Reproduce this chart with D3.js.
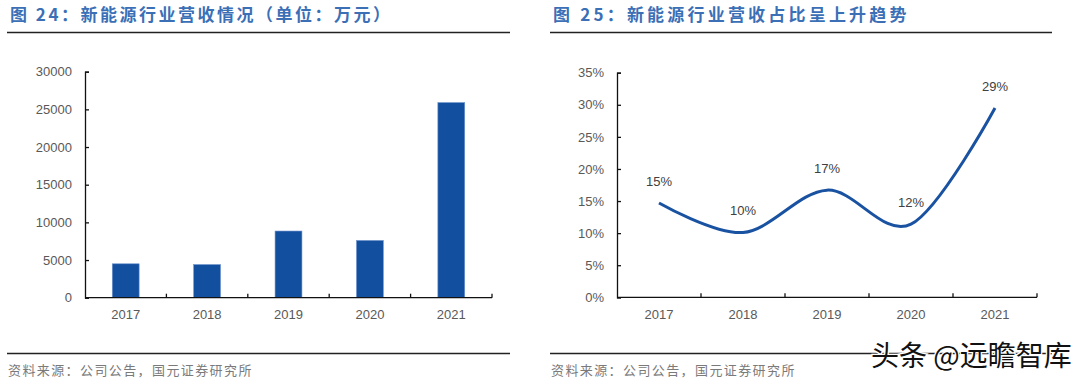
<!DOCTYPE html>
<html>
<head>
<meta charset="utf-8">
<script src="https://cdn.jsdelivr.net/npm/d3@7"></script>
<style>
  body { margin: 0; background: #fff; }
  svg { display: block; }
</style>
</head>
<body>
<script>
// data
const years = ['2017', '2018', '2019', '2020', '2021'];
const revenue = [4500, 4400, 8850, 7600, 25900];     // 万元
const share = [0.147, 0.101, 0.167, 0.114, 0.295];   // share of total revenue
const shareLabels = ['15%', '10%', '17%', '12%', '29%'];
const revTicks = [0, 5000, 10000, 15000, 20000, 25000, 30000];
const shareTicks = [0, 0.05, 0.10, 0.15, 0.20, 0.25, 0.30, 0.35];

const W = 1080, H = 384;
const blue = '#134f9f';
const cjk = '"Noto Sans CJK SC", "Noto Sans", sans-serif';
const latin = 'Arial, "Liberation Sans", sans-serif';

const svg = d3.select('body').append('svg')
    .attr('width', W)
    .attr('height', H);

// titles, rules, source lines for both panels
const panels = [
  {x0: 7, x1: 510, ls: 2.5, title: '图 24：新能源行业营收情况（单位：万元）'},
  {x0: 550, x1: 1052, ls: 3.2, title: '图 25：新能源行业营收占比呈上升趋势'}
];
panels.forEach(p => {
  svg.append('text')
      .attr('x', p.x0 + 3)
      .attr('y', 21)
      .attr('fill', '#3b6fb6')
      .attr('font-family', cjk)
      .attr('font-weight', 700)
      .attr('font-size', 17)
      .attr('letter-spacing', p.ls)
      .text(p.title);
  svg.append('line')
      .attr('x1', p.x0).attr('x2', p.x1)
      .attr('y1', 32.5).attr('y2', 32.5)
      .attr('stroke', '#222').attr('stroke-width', 1.6);
  svg.append('line')
      .attr('x1', p.x0).attr('x2', p.x1)
      .attr('y1', 353.5).attr('y2', 353.5)
      .attr('stroke', '#222').attr('stroke-width', 1.6);
  svg.append('text')
      .attr('x', p.x0 + 1)
      .attr('y', 375)
      .attr('fill', '#7a7a7a')
      .attr('font-family', cjk)
      .attr('font-size', 13)
      .attr('letter-spacing', 1.4)
      .text('资料来源：公司公告，国元证券研究所');
});

function styleAxis(g) {
  g.select('.domain').attr('stroke', '#111').attr('stroke-width', 1.3);
  g.selectAll('.tick line').attr('stroke', '#111').attr('stroke-width', 1.3);
  g.selectAll('.tick text')
      .attr('fill', '#595959')
      .attr('font-family', latin)
      .attr('font-size', 13);
}

// ---- left: bar chart
const bx = d3.scaleBand().domain(years).range([85, 492]).paddingInner(0.67).paddingOuter(0.335);
const bxTicks = d3.scaleBand().domain(years).range([85, 492]);
const by = d3.scaleLinear().domain([0, 30000]).range([297.7, 71.7]);

const byAxis = svg.append('g')
    .attr('transform', 'translate(85,0)')
    .call(d3.axisLeft(by).tickValues(revTicks).tickSize(-4).tickPadding(13).tickFormat(d3.format('d')));
styleAxis(byAxis);

svg.selectAll('rect.bar')
  .data(years)
  .join('rect')
    .attr('class', 'bar')
    .attr('x', d => bx(d))
    .attr('width', bx.bandwidth())
    .attr('y', (d, i) => by(revenue[i]))
    .attr('height', (d, i) => by(0) - by(revenue[i]))
    .attr('fill', blue)
    .attr('stroke', '#6d93cc')
    .attr('stroke-width', 0.6);

const bxAxis = svg.append('g')
    .attr('transform', `translate(0,${by(0)})`)
    .call(d3.axisBottom(bxTicks).tickSize(0).tickPadding(12));
styleAxis(bxAxis);
bxAxis.select('.domain').attr('d', `M85,0H492`);
// separator ticks between categories
bxAxis.selectAll('line.sep')
  .data(years)
  .join('line')
    .attr('class', 'sep')
    .attr('x1', d => bxTicks(d) + bxTicks.bandwidth())
    .attr('x2', d => bxTicks(d) + bxTicks.bandwidth())
    .attr('y1', -4).attr('y2', 0)
    .attr('stroke', '#111').attr('stroke-width', 1.3);

// ---- right: smooth line
const lx = d3.scaleBand().domain(years).range([617, 1037]);
const ly = d3.scaleLinear().domain([0, 0.35]).range([297.3, 72.7]);

const lyAxis = svg.append('g')
    .attr('transform', 'translate(617,0)')
    .call(d3.axisLeft(ly).tickValues(shareTicks).tickSize(-4).tickPadding(13).tickFormat(d3.format('.0%')));
styleAxis(lyAxis);

const lxAxis = svg.append('g')
    .attr('transform', `translate(0,${ly(0)})`)
    .call(d3.axisBottom(lx).tickSize(0).tickPadding(12));
styleAxis(lxAxis);
lxAxis.select('.domain').attr('d', `M617,0H1037`);
lxAxis.selectAll('line.sep')
  .data(years)
  .join('line')
    .attr('class', 'sep')
    .attr('x1', d => lx(d) + lx.bandwidth())
    .attr('x2', d => lx(d) + lx.bandwidth())
    .attr('y1', -4).attr('y2', 0)
    .attr('stroke', '#111').attr('stroke-width', 1.3);

const line = d3.line()
    .x((d, i) => lx(years[i]) + lx.bandwidth() / 2)
    .y(d => ly(d))
    .curve(d3.curveCardinal.tension(0));

svg.append('path')
    .datum(share)
    .attr('d', line)
    .attr('fill', 'none')
    .attr('stroke', '#1a52a2')
    .attr('stroke-width', 3)
    .attr('stroke-linecap', 'butt');

svg.selectAll('text.lbl')
  .data(share)
  .join('text')
    .attr('class', 'lbl')
    .attr('x', (d, i) => lx(years[i]) + lx.bandwidth() / 2)
    .attr('y', d => ly(d) - 17)
    .attr('text-anchor', 'middle')
    .attr('fill', '#404040')
    .attr('font-family', latin)
    .attr('font-size', 13)
    .text((d, i) => shareLabels[i]);

// watermark
svg.append('text')
    .attr('x', 871)
    .attr('y', 366)
    .attr('fill', '#111')
    .attr('stroke', '#fff')
    .attr('stroke-width', 2.5)
    .attr('paint-order', 'stroke')
    .attr('font-family', cjk)
    .attr('font-size', 28)
    .text('头条 @远瞻智库');
</script>
</body>
</html>
